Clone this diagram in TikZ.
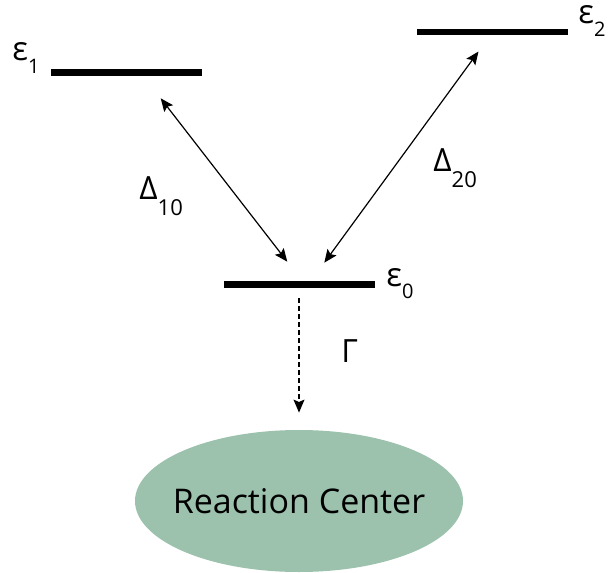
\documentclass[tikz,border=0pt]{standalone}
\usepackage{fontspec}
\setmainfont{Open Sans}
\usepackage{xcolor}
\usepackage{tikz}
\usetikzlibrary{arrows.meta, positioning, shapes.geometric}
\definecolor{rcgreen}{HTML}{9CC2AD}
\newcommand{\epslab}[1]{{\fontsize{16.5}{19}\selectfont ε}\raisebox{-6pt}{\fontsize{10}{11}\selectfont #1}}
\newcommand{\dellab}[1]{Δ\raisebox{-8pt}{\fontsize{11}{12}\selectfont #1}}
\tikzset{
  lvlbar/.style={rectangle,fill=black,inner sep=0pt,minimum width=75.5pt,minimum height=3.4pt},
  lvllabel/.style={inner sep=0pt,anchor=base west,font=\fontsize{16}{18}\selectfont},
  coupling/.style={{Stealth[length=6.5pt,width=5.5pt,inset=1.2pt]}-{Stealth[length=6.5pt,width=5.5pt,inset=1.2pt]},line width=0.6pt},
  decay/.style={-{Stealth[length=6.5pt,width=5.5pt,inset=1.2pt]},line width=0.6pt,dash pattern=on 2.5pt off 1.5pt},
  rcnode/.style={ellipse,fill=rcgreen,inner sep=0pt,minimum width=164pt,minimum height=71pt,
    label={[font=\fontsize{17}{20}\selectfont]center:Reaction Center}},
}

\begin{document}
\begin{tikzpicture}[x=0.5pt,y=-0.5pt]
  \useasboundingbox (0,0) rectangle (611,573);
  % energy levels
  \node[lvllabel] (l1) at (12,61) {\epslab{1}};
  \node[lvlbar] (e1) at (126.5,72.5) {};
  \node[lvlbar] (e2) at (492,32) {};
  \node[lvlbar] (e0) at (299,284.5) {};
  \node[lvllabel] (l2) at (578,24) {\epslab{2}};
  \node[lvllabel] (l0) at (386,286) {\epslab{0}};
  % couplings
  \coordinate (c1a) at (160.7,98.3);
  \coordinate (c1b) at (287.3,261.7);
  \coordinate (c2a) at (478.5,51.5);
  \coordinate (c2b) at (324.3,262.7);
  \draw[coupling] (c1a) -- (c1b);
  \draw[coupling] (c2a) -- (c2b);
  \node[lvllabel] (d10) at (139,199) {\dellab{10}};
  \node[lvllabel] (d20) at (433,171) {\dellab{20}};
  % trapping
  \node[rcnode] (rc) at (299,501) {};
  \draw[decay,shorten <=5pt,shorten >=8.5pt] (e0.south) -- (rc.north);
  \node[lvllabel] (gam) at (341,362) {Γ};
\end{tikzpicture}
\end{document}
